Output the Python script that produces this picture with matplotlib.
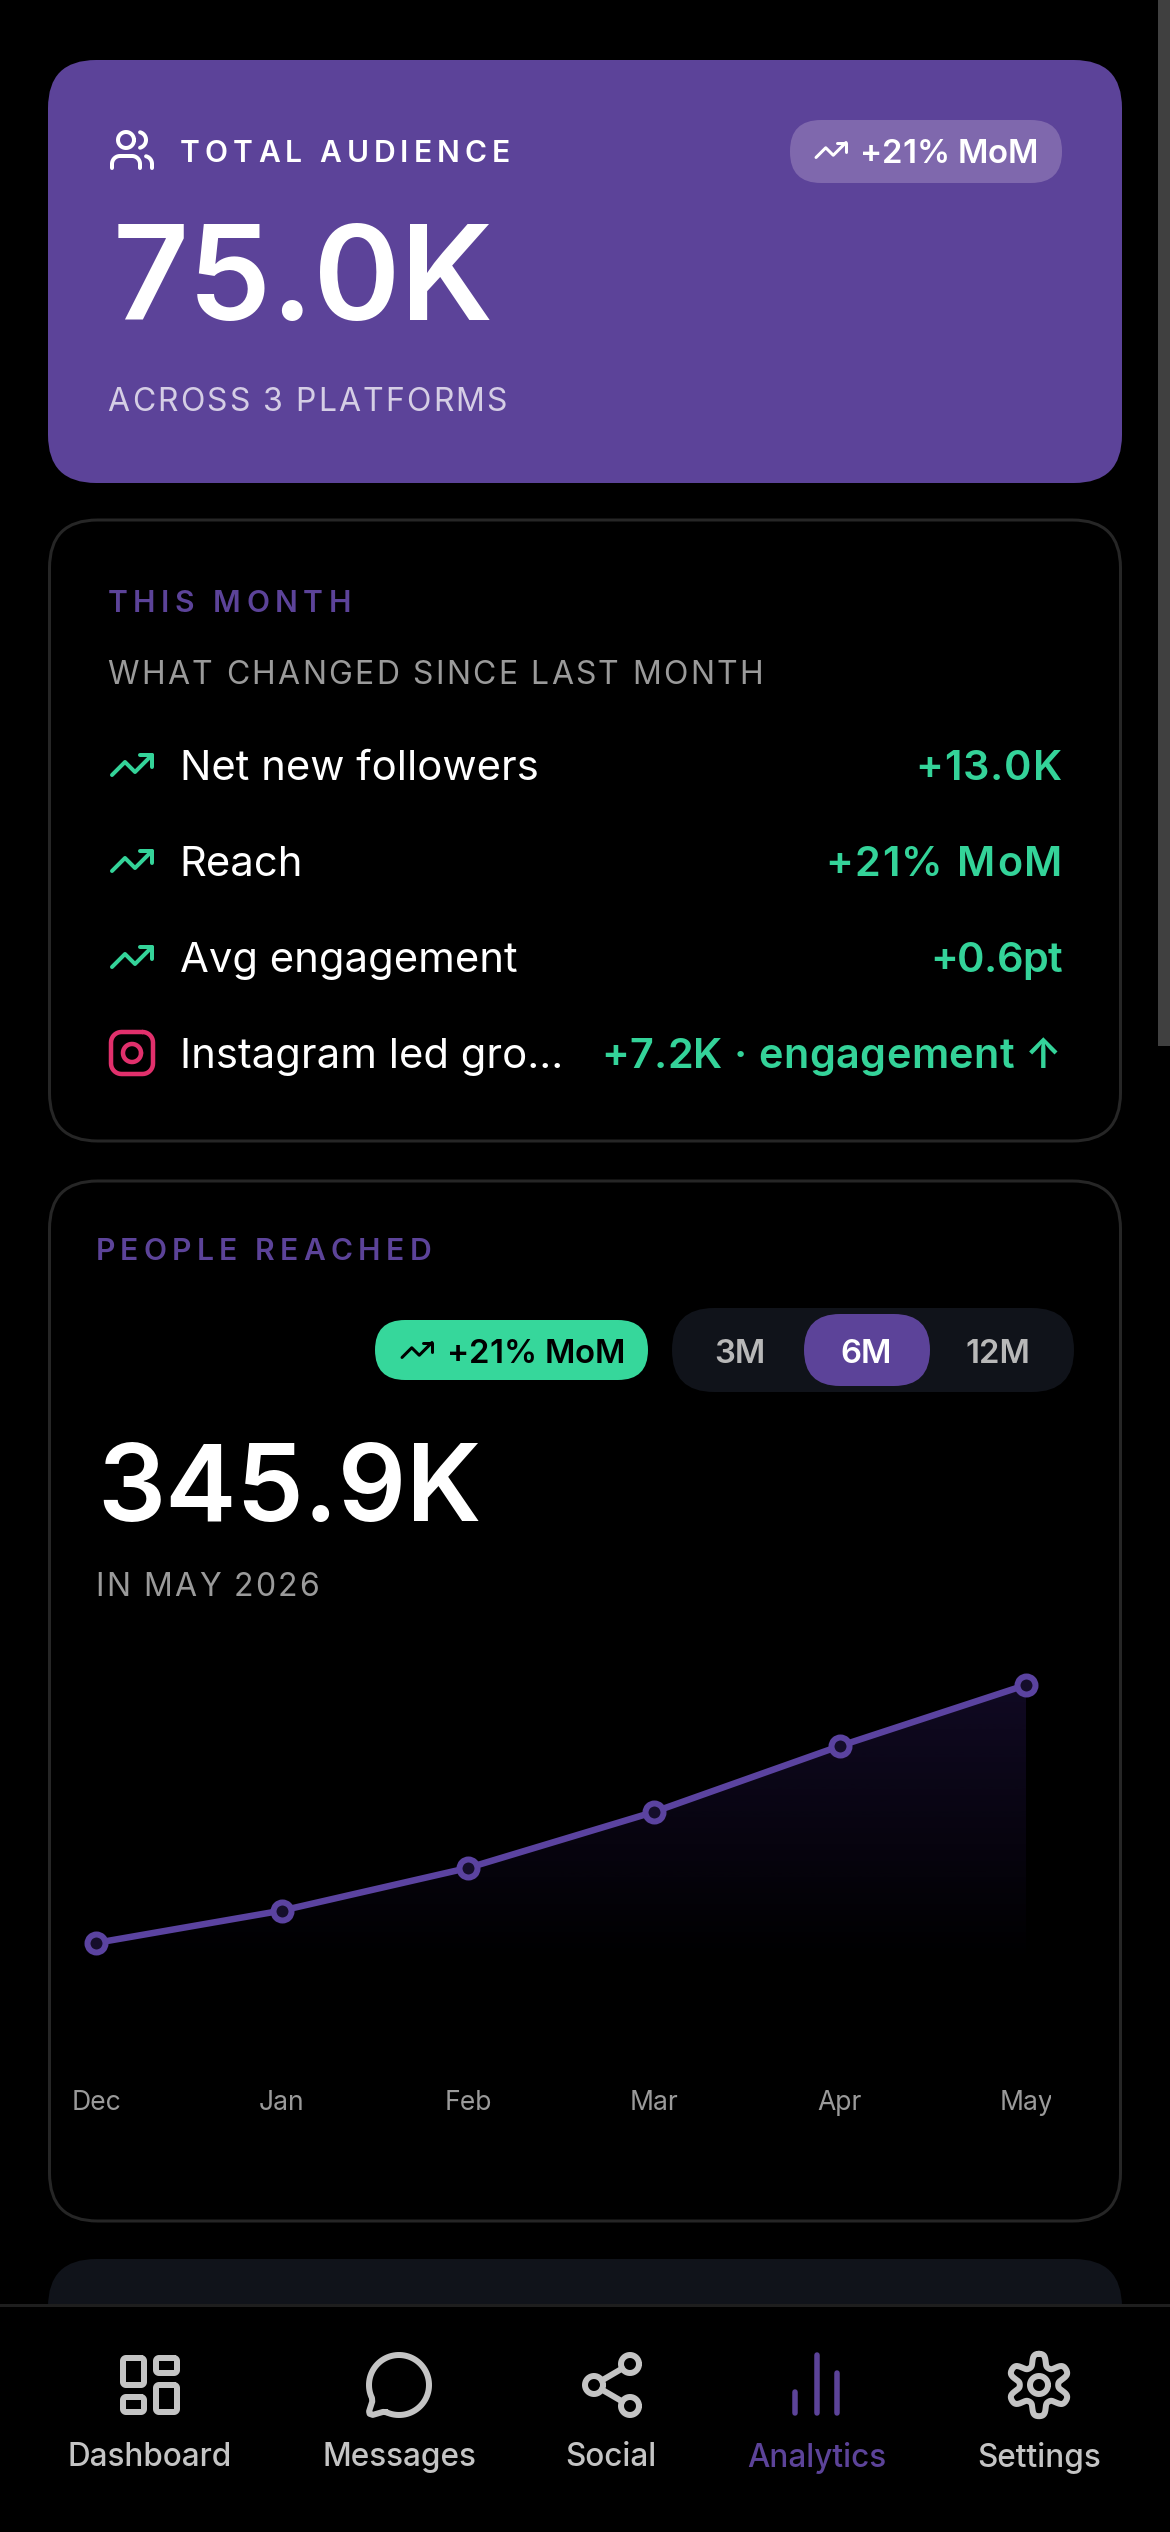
import matplotlib
matplotlib.use('Agg')
import matplotlib.pyplot as plt
import numpy as np
from matplotlib.patches import FancyBboxPatch
from matplotlib.font_manager import FontProperties
from matplotlib.transforms import Bbox

plt.rcParams['font.family'] = ['Inter', 'DejaVu Sans']

# data
months = ['Dec', 'Jan', 'Feb', 'Mar', 'Apr', 'May']
reach_k = [91.7, 123.6, 165.6, 220.8, 285.8, 345.9]
row_labels = ['Net new followers', 'Reach', 'Avg engagement', 'Instagram led gro...']
row_values = ['+13.0K', '+21% MoM', '+0.6pt', '+7.2K · engagement ↑']
ranges = ['3M', '6M', '12M']
nav_labels = ['Dashboard', 'Messages', 'Social', 'Analytics', 'Settings']

PURPLE = '#5C4399'
GREEN = '#34D399'
GREY = '#9A9A9A'
DARK = '#10131A'
BORDER = '#262626'
NAV = '#C4C4C4'

PX = 0.72  # pixels to points at dpi 100

fig = plt.figure(figsize=(11.7, 25.32), dpi=100, facecolor='black')
bg = fig.add_axes([0, 0, 1, 1])
bg.set_xlim(0, 1170)
bg.set_ylim(2532, 0)
bg.axis('off')


def card(x0, y0, x1, y1, r, fc='none', ec='none', lw=0, z=1):
    p = FancyBboxPatch((x0, y0), x1 - x0, y1 - y0, boxstyle='round,pad=0,rounding_size=%s' % r,
                       fc=fc, ec=ec, lw=lw * PX, zorder=z)
    bg.add_patch(p)


def label(x, y, s, px, color='white', weight='normal', ha='left'):
    return bg.text(x, y, s, fontsize=px * PX, color=color, fontweight=weight, ha=ha, va='center_baseline', zorder=5)


def spaced(x0, x1, y, s, px, color, weight='normal'):
    # no letter spacing in matplotlib, so place the letters one by one
    prop = FontProperties(family='Inter', size=px * PX, weight=weight)
    rend = fig.canvas.get_renderer()
    full = rend.get_text_width_height_descent(s, prop, False)[0]
    gap = (x1 - x0 - full) / (len(s) - 1)
    for i, ch in enumerate(s):
        w = rend.get_text_width_height_descent(s[:i], prop, False)[0] if i > 0 else 0
        bg.text(x0 + w + i * gap, y, ch, fontproperties=prop, color=color, ha='left', va='center_baseline', zorder=5)


def stroke(pts, ox, oy, s, color, lw, z=6, alpha=1):
    pts = np.array(pts)
    bg.plot(ox + pts[:, 0] * s, oy + pts[:, 1] * s, color=color, lw=lw * PX, solid_capstyle='round',
            solid_joinstyle='round', zorder=z, alpha=alpha)


def arc(cx, cy, r, a0, a1, n=40):
    t = np.radians(np.linspace(a0, a1, n))
    return np.column_stack([cx + r * np.cos(t), cy + r * np.sin(t)])


def trending(cx, cy, s, color, lw):
    ox, oy = cx - 12 * s, cy - 12 * s
    stroke([(22, 7), (13.5, 15.5), (8.5, 10.5), (2, 17)], ox, oy, s, color, lw)
    stroke([(16, 7), (22, 7), (22, 13)], ox, oy, s, color, lw)


def users(cx, cy, s, color, lw):
    ox, oy = cx - 12 * s, cy - 12 * s
    stroke(arc(9, 7, 4, 0, 360), ox, oy, s, color, lw)
    stroke(np.vstack([[(16, 21)], arc(12, 19, 4, 0, -90), arc(6, 19, 4, -90, -180), [(2, 21)]]), ox, oy, s, color, lw)
    stroke(np.vstack([[(22, 21)], arc(18, 19, 4, 0, -75)]), ox, oy, s, color, lw)
    stroke(arc(15, 7, 4, -75, 75), ox, oy, s, color, lw)


def rrect(x, y, w, h, r):
    return np.vstack([arc(x + w - r, y + r, r, -90, 0, 10), arc(x + w - r, y + h - r, r, 0, 90, 10),
                      arc(x + r, y + h - r, r, 90, 180, 10), arc(x + r, y + r, r, 180, 270, 10),
                      [(x + w - r, y)]])


def instagram(cx, cy, s, color, lw):
    ox, oy = cx - 12 * s, cy - 12 * s
    stroke(rrect(2, 2, 20, 20, 5), ox, oy, s, color, lw)
    stroke(arc(12, 12, 4.3, 0, 360), ox, oy, s, color, lw)
    stroke([(17.5, 6.5), (17.51, 6.5)], ox, oy, s, color, lw)


# scrollbar
bg.add_patch(plt.Rectangle((1158, 0), 12, 1046, fc='#404040', ec='none', zorder=1))

# hero card
card(48, 60, 1122, 483, 48, fc=PURPLE)
users(132, 150, 2, 'white', 4)
spaced(180, 510, 151, 'TOTAL AUDIENCE', 30, 'white', 'semibold')
card(790, 120, 1062, 183, 31, fc='#7F68AD', z=2)
trending(831, 150, 1.5, 'white', 3)
spaced(860, 1038, 151, '+21% MoM', 33, 'white', 'semibold')
label(113, 272, '75.0K', 132, weight='semibold')
spaced(107.5, 507, 399, 'ACROSS 3 PLATFORMS', 32, '#D5CEE5')

# this month card
card(49.5, 520, 1120.5, 1141, 48, ec=BORDER, lw=3)
spaced(107.5, 351, 601, 'THIS MONTH', 30, PURPLE, 'semibold')
spaced(107.5, 763, 672, 'WHAT CHANGED SINCE LAST MONTH', 32, GREY)
row_y = [765, 861, 957, 1053]
value_left = [915, 825, 930, 601]
for i in range(4):
    if i < 3:
        trending(132, row_y[i], 2, GREEN, 4)
    else:
        instagram(132, row_y[i], 2.1, '#E1306C', 4.5)
    label(179.5, row_y[i], row_labels[i], 41.8)
    # the digits are wider in the reference, fit each value to its width
    spaced(value_left[i], 1062, row_y[i], row_values[i], 41.5, GREEN, 'semibold')

# people reached card
card(49.5, 1181, 1120.5, 2221, 48, ec=BORDER, lw=3)
spaced(95.5, 431, 1249, 'PEOPLE REACHED', 30, PURPLE, 'semibold')
card(375, 1320, 648, 1380, 30, fc='#36D79B', z=2)
trending(417, 1350, 1.5, 'black', 3)
spaced(447, 625, 1351, '+21% MoM', 33, 'black', 'semibold')
card(672, 1308, 1074, 1392, 42, fc=DARK, z=2)
card(804, 1314, 930, 1386, 36, fc=PURPLE, z=3)
range_x = [740, 866, 998]
for i in range(3):
    label(range_x[i], 1351, ranges[i], 33, color='white' if i == 1 else '#B8B8B8', weight='semibold', ha='center')
label(97, 1482, '345.9K', 107, weight='semibold')
spaced(95.5, 319, 1584, 'IN MAY 2026', 32, GREY)

# the line chart, 0 sits at y=2036 px and May at y=1685 px
ax = fig.add_axes([96 / 1170, 1 - 2036 / 2532, 930 / 1170, 376 / 2532])
ax.patch.set_alpha(0)
x = np.arange(len(months))
ymax = 370.5
area = ax.fill_between(x, reach_k, 0, color='none', lw=0)
grad = np.zeros((256, 1, 4))
grad[:, 0, 0] = 0x55 / 255
grad[:, 0, 1] = 0x30 / 255
grad[:, 0, 2] = 0xB0 / 255
grad[:, 0, 3] = np.linspace(0.2, 0, 256)
im = ax.imshow(grad, extent=[0, 5, 70, 345.9], aspect='auto', origin='upper', zorder=1)
im.set_clip_path(area.get_paths()[0], transform=ax.transData)
ax.plot(x, reach_k, color='#5B43A0', lw=6.5 * PX, marker='o', ms=18 * PX, mew=6 * PX, mfc='#150E2B',
        mec='#5B43A0', clip_on=False, zorder=3)
ax.set_xlim(0, 5)
ax.set_ylim(0, ymax)
ax.set_yticks([])
ax.set_xticks(x)
ax.set_xticklabels(months, fontsize=26.5 * PX, color=GREY)
ax.tick_params(axis='x', length=0, pad=54 * PX)
for spine in ax.spines.values():
    spine.set_visible(False)
for t in ax.get_xticklabels():
    t.set_clip_box(Bbox([[0, 0], [1051, 2532]]))
    t.set_clip_on(True)

# next card, cut by the nav bar
card(48, 2259, 1122, 2450, 48, fc=DARK, z=1)
bg.add_patch(plt.Rectangle((0, 2305), 1170, 227, fc='black', ec='none', zorder=2))
bg.plot([0, 1170], [2305, 2305], color='#1E1E1E', lw=3 * PX, zorder=3)

# nav icons
ic = 2385
s = 3
lw = 6
ox, oy = 150 - 36, ic - 36
for r in [(3, 3, 7, 9), (14, 3, 7, 5), (14, 12, 7, 9), (3, 16, 7, 5)]:
    stroke(rrect(r[0], r[1], r[2], r[3], 1), ox, oy, s, NAV, lw)

ox, oy = 399 - 36, ic - 36
stroke(np.vstack([arc(12, 12, 10, 115, -205.7, 80), [(3.086, 17.509), (2.021, 20.799), (2.2, 21.6), (3.257, 21.967),
                                                      (6.67, 20.969), (7.769, 21.061)]]), ox, oy, s, NAV, lw)

ox, oy = 612 - 36, ic - 36
stroke(arc(18, 5, 3, 0, 360), ox, oy, s, NAV, lw)
stroke(arc(6, 12, 3, 0, 360), ox, oy, s, NAV, lw)
stroke(arc(18, 19, 3, 0, 360), ox, oy, s, NAV, lw)
stroke([(8.59, 13.51), (15.42, 17.49)], ox, oy, s, NAV, lw)
stroke([(15.41, 6.51), (8.59, 10.49)], ox, oy, s, NAV, lw)

for bx, top in [(795, 2392), (816.5, 2355), (837, 2373)]:
    bg.plot([bx, bx], [top, 2413], color=PURPLE, lw=5.5 * PX, solid_capstyle='round', zorder=6)

ox, oy = 1039 - 36, ic - 36
phi = np.linspace(0, 2 * np.pi, 361)
gear_r = 8.4 + 2.0 * np.tanh(1.6 * np.cos(6 * phi)) / np.tanh(1.6)
stroke(np.column_stack([12 + gear_r * np.sin(phi), 12 - gear_r * np.cos(phi)]), ox, oy, s, NAV, lw)
stroke(arc(12, 12, 3, 0, 360), ox, oy, s, NAV, lw)

nav_x = [150, 399, 610.5, 816.5, 1039]
for i in range(5):
    label(nav_x[i], 2454, nav_labels[i], 31.5, color=PURPLE if i == 3 else NAV, weight='medium', ha='center')

fig.savefig('out.png', dpi=100, facecolor='black')
